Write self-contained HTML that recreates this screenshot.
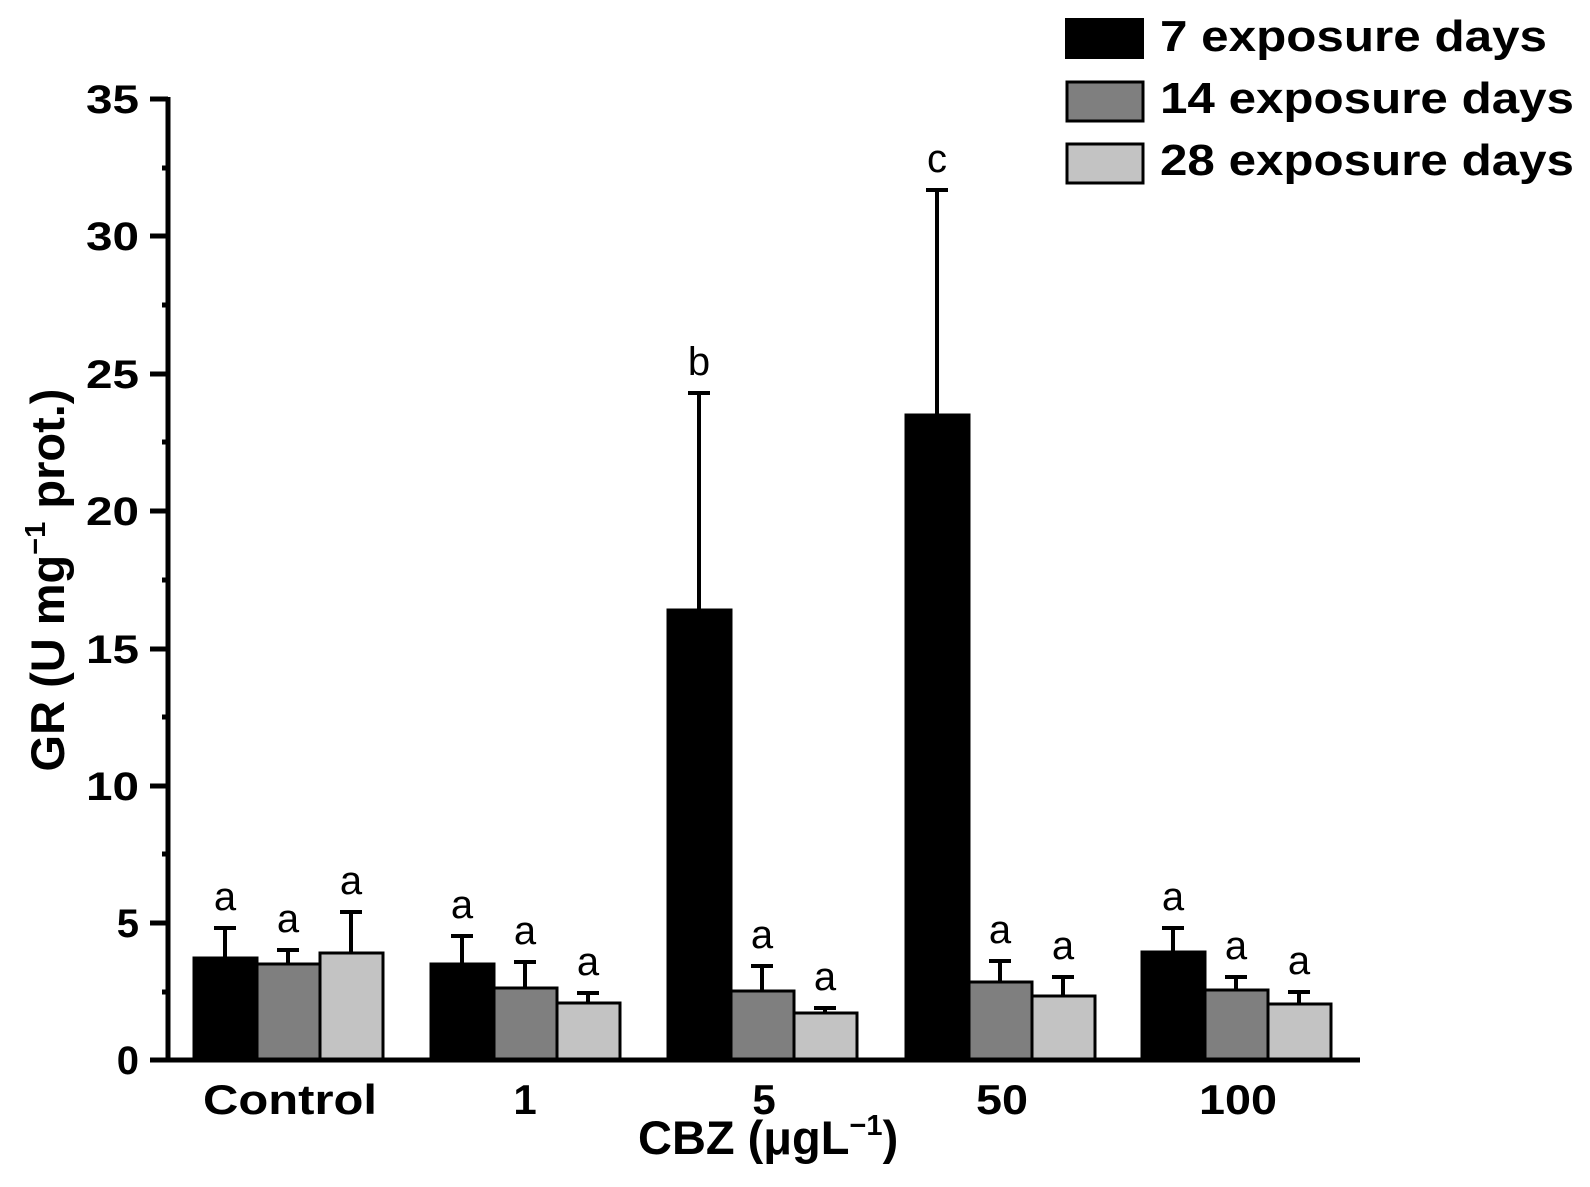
<!DOCTYPE html>
<html><head><meta charset="utf-8"><style>html,body{margin:0;padding:0;background:#fff}svg{display:block}</style></head>
<body>
<svg width="1590" height="1187" xmlns="http://www.w3.org/2000/svg" font-family="Liberation Sans, Arial, sans-serif">
<rect width="1590" height="1187" fill="#fff"/>
<g stroke="#000" stroke-width="3">
<rect x="194" y="958" width="63" height="102" fill="#000"/>
<rect x="257" y="964" width="63" height="96" fill="#7f7f7f"/>
<rect x="320" y="953" width="63" height="107" fill="#c3c3c3"/>
<rect x="431" y="964" width="63" height="96" fill="#000"/>
<rect x="494" y="988" width="63" height="72" fill="#7f7f7f"/>
<rect x="557" y="1003" width="63" height="57" fill="#c3c3c3"/>
<rect x="668" y="610" width="63" height="450" fill="#000"/>
<rect x="731" y="991" width="63" height="69" fill="#7f7f7f"/>
<rect x="794" y="1013" width="63" height="47" fill="#c3c3c3"/>
<rect x="906" y="415" width="63" height="645" fill="#000"/>
<rect x="969" y="982" width="63" height="78" fill="#7f7f7f"/>
<rect x="1032" y="996" width="63" height="64" fill="#c3c3c3"/>
<rect x="1142" y="952" width="63" height="108" fill="#000"/>
<rect x="1205" y="990" width="63" height="70" fill="#7f7f7f"/>
<rect x="1268" y="1004" width="63" height="56" fill="#c3c3c3"/>
</g>
<g stroke="#000" stroke-width="4" fill="none">
<path d="M225 958V928M214 928h22"/>
<path d="M288 964V950M277 950h22"/>
<path d="M351 953V912M340 912h22"/>
<path d="M462 964V936M451 936h22"/>
<path d="M525 988V962M514 962h22"/>
<path d="M588 1003V993M577 993h22"/>
<path d="M699 610V393M688 393h22"/>
<path d="M762 991V966M751 966h22"/>
<path d="M825 1013V1008M814 1008h22"/>
<path d="M937 415V190M926 190h22"/>
<path d="M1000 982V961M989 961h22"/>
<path d="M1063 996V977M1052 977h22"/>
<path d="M1173 952V928M1162 928h22"/>
<path d="M1236 990V977M1225 977h22"/>
<path d="M1299 1004V992M1288 992h22"/>
</g>
<g font-size="40" text-anchor="middle" fill="#000">
<text x="225" y="910">a</text><text x="288" y="932">a</text><text x="351" y="894">a</text>
<text x="462" y="918">a</text><text x="525" y="944">a</text><text x="588" y="975">a</text>
<text x="699" y="375">b</text><text x="762" y="948">a</text><text x="825" y="990">a</text>
<text x="937" y="172">c</text><text x="1000" y="943">a</text><text x="1063" y="959">a</text>
<text x="1173" y="910">a</text><text x="1236" y="959">a</text><text x="1299" y="974">a</text>
</g>
<g stroke="#000" stroke-width="5" fill="none">
<path d="M168 97V1060"/>
<path d="M150 1060H1360"/>
<path d="M150 99h18M150 236h18M150 374h18M150 511h18M150 649h18M150 786h18M150 923h18"/>
<path d="M162 168h6M162 305h6M162 442h6M162 580h6M162 717h6M162 854h6M162 992h6"/>
</g>
<g font-size="40" font-weight="bold" text-anchor="end" fill="#000">
<text x="139" y="113" textLength="53" lengthAdjust="spacingAndGlyphs">35</text>
<text x="139" y="250" textLength="53" lengthAdjust="spacingAndGlyphs">30</text>
<text x="139" y="388" textLength="53" lengthAdjust="spacingAndGlyphs">25</text>
<text x="139" y="525" textLength="53" lengthAdjust="spacingAndGlyphs">20</text>
<text x="139" y="663" textLength="53" lengthAdjust="spacingAndGlyphs">15</text>
<text x="139" y="800" textLength="53" lengthAdjust="spacingAndGlyphs">10</text>
<text x="139" y="937">5</text><text x="139" y="1074">0</text>
</g>
<g font-size="42" font-weight="bold" text-anchor="middle" fill="#000">
<text x="290" y="1114" textLength="174" lengthAdjust="spacingAndGlyphs">Control</text><text x="525" y="1114">1</text><text x="764" y="1114">5</text>
<text x="1002" y="1114" textLength="52" lengthAdjust="spacingAndGlyphs">50</text><text x="1238" y="1114" textLength="78" lengthAdjust="spacingAndGlyphs">100</text>
</g>
<text x="638" y="1154" font-size="47" font-weight="bold">CBZ (μgL<tspan dy="-19" font-size="29">−1</tspan><tspan dy="19">)</tspan></text>
<text transform="translate(64,580) rotate(-90)" font-size="47" font-weight="bold" text-anchor="middle">GR (U mg<tspan dy="-19" font-size="29">−1</tspan><tspan dy="19"> prot.)</tspan></text>
<rect x="1066" y="19" width="77" height="39" fill="#000" stroke="#000" stroke-width="2"/>
<rect x="1067" y="82" width="76" height="39" fill="#7f7f7f" stroke="#000" stroke-width="3"/>
<rect x="1067" y="144" width="76" height="39" fill="#c3c3c3" stroke="#000" stroke-width="3"/>
<g font-size="44" font-weight="bold" fill="#000">
<text x="1160" y="51" textLength="387" lengthAdjust="spacingAndGlyphs">7 exposure days</text>
<text x="1160" y="113" textLength="414" lengthAdjust="spacingAndGlyphs">14 exposure days</text>
<text x="1160" y="175" textLength="414" lengthAdjust="spacingAndGlyphs">28 exposure days</text>
</g>
</svg>
</body></html>
